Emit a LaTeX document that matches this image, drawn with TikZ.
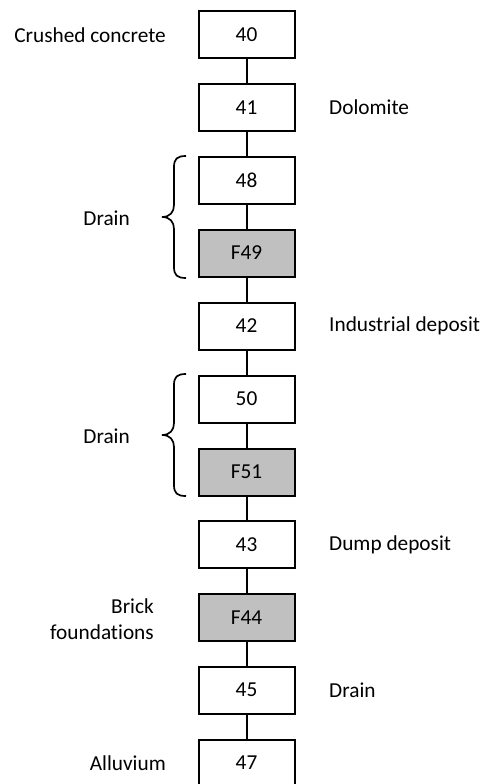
\documentclass[tikz,border=0pt]{standalone}
\usepackage{fontspec}
\setmainfont[Ligatures=NoCommon]{Carlito}
\begin{document}
\begin{tikzpicture}[x=1pt,y=-1pt,
  layer/.style={draw=black, line width=2pt, minimum width=96pt, minimum height=47pt, inner sep=0pt, font=\fontsize{21.3}{25}\selectfont},
  find/.style={layer, fill=fillgray},
  lbl/.style={inner sep=0pt, font=\fontsize{21.3}{26}\selectfont},
  link/.style={line width=2pt},
  bracestyle/.style={line width=1.7pt}]
\definecolor{fillgray}{RGB}{192,192,192}
\useasboundingbox (0,0) rectangle (483,784);
\node[layer] (n40) at (246.5,35) {40};
\node[layer] (n41) at (246.5,107.5) {41};
\node[layer] (n48) at (246.5,180) {48};
\node[find] (n49) at (246.5,253) {F49};
\node[layer] (n42) at (246.5,326) {42};
\node[layer] (n50) at (246.5,399) {50};
\node[find] (n51) at (246.5,472) {F51};
\node[layer] (n43) at (246.5,544.5) {43};
\node[find] (n44) at (246.5,617.5) {F44};
\node[layer] (n45) at (246.5,690) {45};
\node[layer] (n47) at (246.5,763) {47};
\foreach \a/\b in {n40/n41,n41/n48,n48/n49,n49/n42,n42/n50,n50/n51,n51/n43,n43/n44,n44/n45,n45/n47}
  \draw[link] (\a.south) -- (\b.north);
\node[lbl, anchor=east] (l40) at (166,35) {Crushed concrete};
\node[lbl, anchor=west] (l41) at (329,107.5) {Dolomite};
\node[lbl, anchor=west] (l42) at (329,326) {Industrial deposit};
\node[lbl, anchor=west] (l43) at (329,544.5) {Dump deposit};
\node[lbl, anchor=east, align=right] (l44) at (154,619) {Brick\\foundations};
\node[lbl, anchor=west] (l45) at (329,690) {Drain};
\node[lbl, anchor=east] (l47) at (166,763) {Alluvium};
\node[lbl, anchor=east] (d1) at (130,218) {Drain};
\node[lbl, anchor=east] (d2) at (130,436) {Drain};
\foreach \t/\b in {156/278, 374/496} {
  \pgfmathsetmacro{\m}{(\t+\b)/2}
  \draw[bracestyle] (186,\t) .. controls (177,\t) and (174,\t+3) .. (174,\t+11)
    -- (174,\m-12) .. controls (174,\m-5) and (170,\m) .. (162,\m)
    .. controls (170,\m) and (174,\m+5) .. (174,\m+12)
    -- (174,\b-11) .. controls (174,\b-3) and (177,\b) .. (186,\b);
}
\end{tikzpicture}
\end{document}
